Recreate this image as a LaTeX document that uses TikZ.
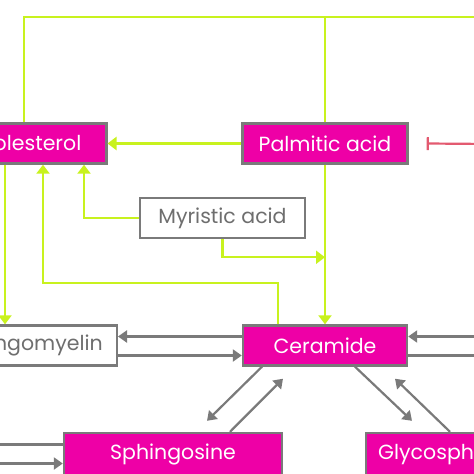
\documentclass[tikz,border=0pt]{standalone}
\usepackage{fontspec}
\setmainfont{Poppins}
\usepackage{tikz}
\usetikzlibrary{positioning,arrows.meta,calc}
\definecolor{lipid}{HTML}{EE00A6}
\definecolor{flux}{HTML}{C8F21E}
\definecolor{edge}{HTML}{7A7A7A}
\definecolor{inhib}{HTML}{E35A70}

\begin{document}
\begin{tikzpicture}[x=1pt,y=-1pt,
    box/.style={draw=edge,line width=2.4pt,minimum height=40pt,inner ysep=0pt,font=\fontsize{20.5}{22}\selectfont},
    hot/.style={box,fill=lipid,text=white},
    cold/.style={box,fill=white,text=edge!90!black},
    feed/.style={flux,line width=2.2pt},
    feedarr/.style={feed,-{Triangle[length=9pt,width=13pt]}},
    conv/.style={edge,line width=2.2pt},
    convarr/.style={conv,-{Triangle[length=9pt,width=12pt]}}]
  \useasboundingbox (0,0) rectangle (474,474);
  \clip (0,0) rectangle (474,474);
  % metabolites
  \node[hot,anchor=east,inner xsep=25pt] (chol) at (107.5,143.5) {Cholesterol};
  \node[hot,minimum width=165pt] (palm) at (325,143.5) {Palmitic acid};
  \node[cold,minimum width=165pt] (myr) at (222.5,218) {Myristic acid};
  \node[cold,anchor=east,inner xsep=14pt] (sm) at (118,345.5) {Sphingomyelin};
  \node[hot,minimum width=164pt] (cer) at (325,345.5) {Ceramide};
  \node[hot,minimum width=218pt,minimum height=42pt] (sphg) at (173,454) {Sphingosine};
  \node[hot,anchor=west,inner xsep=12pt,minimum height=42pt] (glyc) at (365,454) {Glycosphingolipids};
  % green links
  \coordinate (topR) at (490,17);
  \draw[feed] (topR) -| ([xshift=-83.5pt]chol.north east);
  \draw[feed] (palm.north) -- (palm.north |- topR);
  \draw[feedarr] (palm.west) -- (chol.east);
  \draw[feedarr] (myr.west) -| ([xshift=-23.5pt]chol.south east);
  \draw[feedarr] (myr.south) |- ($(palm.south)!0.58!(cer.north)$);
  \draw[feedarr] (palm.south) -- (cer.north);
  \draw[feedarr] ([xshift=-47pt]cer.north) -- ++(0,-41) -| ([xshift=-64.5pt]chol.south east);
  \draw[feedarr] ([xshift=-102.5pt]chol.south east) coordinate (c5) -- (c5 |- sm.north);
  % inhibition
  \coordinate (inhR) at (490,144);
  \draw[inhib,line width=2.2pt,-{Bar[width=13pt]}] (inhR) -- ([xshift=18pt]palm.east);
  % grey conversions
  \draw[convarr] ([yshift=9pt]cer.west) -- ([yshift=9pt]sm.east);
  \draw[convarr] ([yshift=-10pt]sm.east) -- ([yshift=-10pt]cer.west);
  \draw[convarr] ([xshift=90pt,yshift=9pt]cer.east) -- ([yshift=9pt]cer.east);
  \draw[conv] ([yshift=-10pt]cer.east) -- ++(90,0);
  \draw[conv] ([yshift=9.5pt]sphg.west) -- ++(-90,0);
  \draw[convarr] ([xshift=-90pt,yshift=-9.5pt]sphg.west) -- ([yshift=-9.5pt]sphg.west);
  \draw[convarr] ([xshift=-63pt]cer.south) -- ([xshift=34pt,yshift=11pt]sphg.north);
  \draw[convarr] ([xshift=57pt]sphg.north) -- ([xshift=-42pt,yshift=-12pt]cer.south);
  \draw[convarr] ([xshift=30pt]cer.south) -- ([xshift=47pt,yshift=11pt]glyc.north west);
  \draw[convarr] ([xshift=85pt]glyc.north west) -- ([xshift=70pt,yshift=-12pt]cer.south);
\end{tikzpicture}
\end{document}
